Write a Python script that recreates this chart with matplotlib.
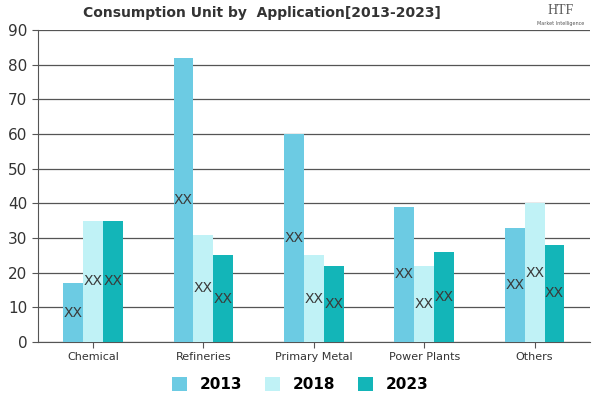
# Consumption unit by application, grouped bars for 2013 / 2018 / 2023
import matplotlib.pyplot as plt
import numpy as np

categories = ['Chemical', 'Refineries', 'Primary Metal', 'Power Plants', 'Others']
years = ['2013', '2018', '2023']
v2013 = [17, 82, 60, 39, 33]
v2018 = [35, 31, 25, 22, 40]
v2023 = [35, 25, 22, 26, 28]
colors = ['#6ccbe3', '#c0f2f6', '#13b5b8']

fig = plt.figure(figsize=(6, 4), dpi=100)
ax = fig.add_axes([0.063, 0.145, 0.92, 0.78])

x = np.arange(len(categories))
w = 0.18
for i, (vals, c, lab) in enumerate(zip([v2013, v2018, v2023], colors, years)):
    pos = x + (i - 1) * w
    ax.bar(pos, vals, width=w, color=c, label=lab, zorder=3)
    for p, v in zip(pos, vals):
        ax.text(p, v / 2, 'XX', ha='center', va='center', fontsize=10,
                color='#3a3a3a', zorder=4)

ax.set_ylim(0, 90)
ax.set_xlim(-0.5, len(categories) - 0.5)
ax.set_yticks(range(0, 91, 10))
ax.set_xticks(x)
ax.set_xticklabels(categories, fontsize=8, color='#333333')
ax.tick_params(axis='y', labelsize=11, labelcolor='#333333', length=4, color='#555555')
ax.tick_params(axis='x', length=4, color='#555555', pad=3)
ax.grid(axis='y', color='#555555', lw=0.9, zorder=1)
for s in ['top', 'right']:
    ax.spines[s].set_visible(False)
ax.spines['left'].set_color('#555555')
ax.spines['bottom'].set_color('#555555')

fig.text(0.437, 0.968, 'Consumption Unit by  Application[2013-2023]', ha='center', va='center',
         fontsize=10, fontweight='heavy', color='#333333')
fig.text(0.935, 0.975, 'HTF', ha='center', va='center', fontsize=10, color='#555555',
         family='Liberation Serif')
fig.text(0.935, 0.94, 'Market Intelligence', ha='center', va='center', fontsize=3.5,
         color='#555555')

fig.legend(loc='lower center', bbox_to_anchor=(0.5, -0.015), ncol=3, frameon=False,
           handlelength=1, handleheight=1, columnspacing=1.5,
           prop={'weight': 'semibold', 'size': 11})

plt.savefig('out.png', dpi=100)
